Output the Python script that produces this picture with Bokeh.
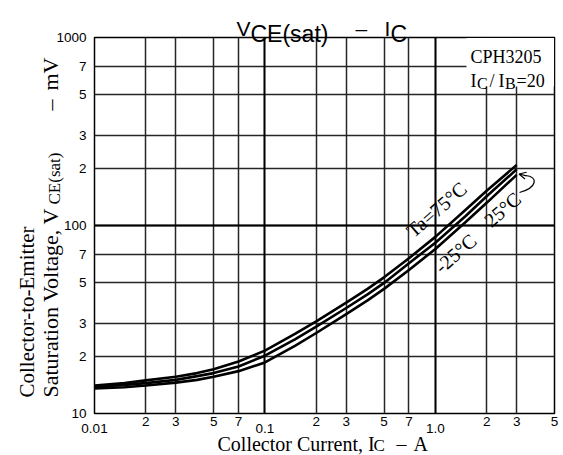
import math
from bokeh.plotting import figure
from bokeh.models import FixedTicker, Label, Grid, BoxAnnotation, Arrow, OpenHead, Range1d
from bokeh.embed import file_html
from bokeh.resources import INLINE

# ---- data ----
ic = [0.01, 0.015, 0.02, 0.03, 0.04, 0.05, 0.07, 0.1, 0.15, 0.2, 0.3, 0.4, 0.5, 0.7, 1.0, 1.5, 2.0, 3.0]
v_ta75 = [14.1, 14.5, 15.0, 15.7, 16.4, 17.2, 18.9, 21.6, 26.5, 30.9, 38.9, 46, 53, 67, 87, 121, 153, 210]
v_ta25 = [13.9, 14.2, 14.5, 15.1, 15.8, 16.4, 17.8, 20.3, 24.8, 29.0, 36.4, 43, 49.5, 63, 81, 112, 143, 199]
v_tam25 = [13.6, 13.8, 14.1, 14.6, 15.1, 15.7, 16.8, 18.7, 22.9, 26.8, 33.8, 40, 46, 58, 75, 104, 132, 186]

x_ticks = [0.01, 0.02, 0.03, 0.05, 0.07, 0.1, 0.2, 0.3, 0.5, 0.7, 1, 2, 3, 5]
x_tick_labels = ["0.01", "2", "3", "5", "7", "0.1", "2", "3", "5", "7", "1.0", "2", "3", "5"]
x_decades = [0.01, 0.1, 1]
y_ticks = [10, 20, 30, 50, 70, 100, 200, 300, 500, 700, 1000]
y_tick_labels = ["10", "2", "3", "5", "7", "100", "2", "3", "5", "7", "1000"]
y_decades = [100]

SERIF = "Liberation Serif"
SANS = "Liberation Sans"

W, H = 563, 455
FL, FR, FT, FB = 94, 554, 37, 413   # frame edges in page pixels
X0, X1 = 0.01, 5
Y0, Y1 = 10, 1000

# page-pixel <-> data helpers (annotation placement only)
def rx(px):
    return 10 ** ((px - FL) / (FR - FL) * math.log10(X1 / X0) + math.log10(X0))

def ry(py):
    return 10 ** ((FB - py) / (FB - FT) * math.log10(Y1 / Y0) + math.log10(Y0))

def px_of(x):
    return FL + (math.log10(x) - math.log10(X0)) / math.log10(X1 / X0) * (FR - FL)

p = figure(width=W, height=H, x_axis_type="log", y_axis_type="log",
           x_range=Range1d(X0, X1), y_range=Range1d(Y0, Y1),
           output_backend="svg", toolbar_location=None,
           min_border_left=FL, min_border_right=W - FR, min_border_top=FT, min_border_bottom=H - FB)
p.background_fill_color = "white"
p.border_fill_color = "white"
p.outline_line_color = "black"
p.outline_line_width = 1.5

for ax in (p.xaxis[0], p.yaxis[0]):
    ax.major_tick_line_color = None
    ax.minor_tick_line_color = None
    ax.axis_line_color = None
    ax.major_label_text_font = SANS
    ax.major_label_text_font_size = "13.5px"
    ax.major_label_text_color = "black"

p.xaxis.ticker = FixedTicker(ticks=x_ticks, minor_ticks=[])
# decade labels are drawn a little lower, on the text layer below
p.xaxis.major_label_overrides = {t: ("" if t in x_decades else l) for t, l in zip(x_ticks, x_tick_labels)}
p.xaxis.major_label_standoff = -3
p.yaxis.ticker = FixedTicker(ticks=y_ticks, minor_ticks=[])
p.yaxis.major_label_overrides = {t: l for t, l in zip(y_ticks, y_tick_labels)}
p.yaxis.major_label_standoff = 2

p.xgrid.ticker = FixedTicker(ticks=x_ticks, minor_ticks=[])
p.ygrid.ticker = FixedTicker(ticks=y_ticks, minor_ticks=[])
for g in (p.xgrid[0], p.ygrid[0]):
    g.grid_line_color = "#262626"
    g.grid_line_width = 1.5
p.add_layout(Grid(dimension=0, ticker=FixedTicker(ticks=x_decades, minor_ticks=[]),
                  grid_line_color="black", grid_line_width=1.8))
p.add_layout(Grid(dimension=1, ticker=FixedTicker(ticks=y_decades, minor_ticks=[]),
                  grid_line_color="black", grid_line_width=1.8))

# white box behind the part-number text
p.add_layout(BoxAnnotation(left=rx(466), bottom=ry(86), right=4.97, top=993,
                           fill_color="white", fill_alpha=1, line_color=None, level="underlay"))

for v in (v_ta75, v_ta25, v_tam25):
    p.line(ic, v, line_color="black", line_width=2.6)

def dlab(x, y, text, size, font=SERIF, angle=0.0, align="left", baseline="alphabetic"):
    p.add_layout(Label(x=x, y=y, text=text, text_font=font, text_font_size=f"{size}px",
                       angle=angle, text_align=align, text_baseline=baseline, text_color="black"))

dlab(rx(470), ry(56), "CPH3205", 18)
dlab(rx(470), ry(80), "I", 18)
dlab(rx(476.5), ry(83), "C", 16)
dlab(rx(489), ry(80), "/", 18)
dlab(rx(498), ry(80), "I", 18)
dlab(rx(504.5), ry(83), "B", 16)
dlab(rx(516), ry(80), "=20", 18)

ang = math.radians(41)
dlab(rx(436), ry(209), "Ta=75°C", 20, angle=ang, align="center", baseline="middle")
dlab(rx(502), ry(209), "25°C", 20, angle=ang, align="center", baseline="middle")
dlab(rx(455), ry(253), "-25°C", 20, angle=ang, align="center", baseline="middle")

p.bezier(x0=[rx(519)], y0=[ry(192)], x1=[rx(525)], y1=[ry(175)],
         cx0=[rx(537)], cy0=[ry(187)], cx1=[rx(538)], cy1=[ry(176)],
         line_color="black", line_width=1.2)
p.add_layout(Arrow(end=OpenHead(size=7, line_width=1.2, line_color="black"),
                   x_start=rx(526), y_start=ry(175.3), x_end=rx(518.5), y_end=ry(173.5),
                   line_color="black", line_width=1.2))

# ---- transparent text layer over the whole page (title and axis titles) ----
t = figure(width=W, height=H, x_range=Range1d(0, W), y_range=Range1d(H, 0),
           output_backend="svg", toolbar_location=None, min_border=0,
           x_axis_location=None, y_axis_location=None,
           background_fill_alpha=0, border_fill_alpha=0, outline_line_color=None,
           styles={"position": "absolute", "top": "0px", "left": "0px"})
t.grid.visible = False

def tlab(x, y, text, size, font=SERIF, angle=0.0, align="left", baseline="alphabetic"):
    t.add_layout(Label(x=x, y=y, text=text, text_font=font, text_font_size=f"{size}px",
                       angle=angle, text_align=align, text_baseline=baseline,
                       text_color="black"))

# decade tick labels of the x axis
for tk, lb in zip(x_ticks, x_tick_labels):
    if tk in x_decades:
        tlab(px_of(tk), FB + 10, lb, 13.5, font=SANS, align="center", baseline="top")

# title  V_CE(sat) - I_C
tlab(236, 28, "V", 21, font=SANS)
tlab(250, 33, "CE(sat)", 23, font=SANS)
tlab(355, 28, "\u2013", 21, font=SANS)
tlab(384, 28, "I", 21, font=SANS)
tlab(390, 33, "C", 23, font=SANS)

# x axis title
tlab(217, 443, "Collector Current, I", 20)
tlab(373, 445, "C", 17)
tlab(396, 443, "\u2013", 20)
tlab(413, 443, "A", 20)

# y axis title (two rotated lines)
up = math.pi / 2
tlab(26, 397, "Collector-to-Emitter", 21, angle=up)
tlab(50, 397, "Saturation Voltage, V", 22, angle=up)
tlab(54, 397 - 193, "CE(sat)", 17, angle=up)
tlab(50, 110, "\u2013", 22, angle=up)
tlab(50, 90, "mV", 22, angle=up)

open("out.html", "w").write(file_html([p, t], INLINE))
